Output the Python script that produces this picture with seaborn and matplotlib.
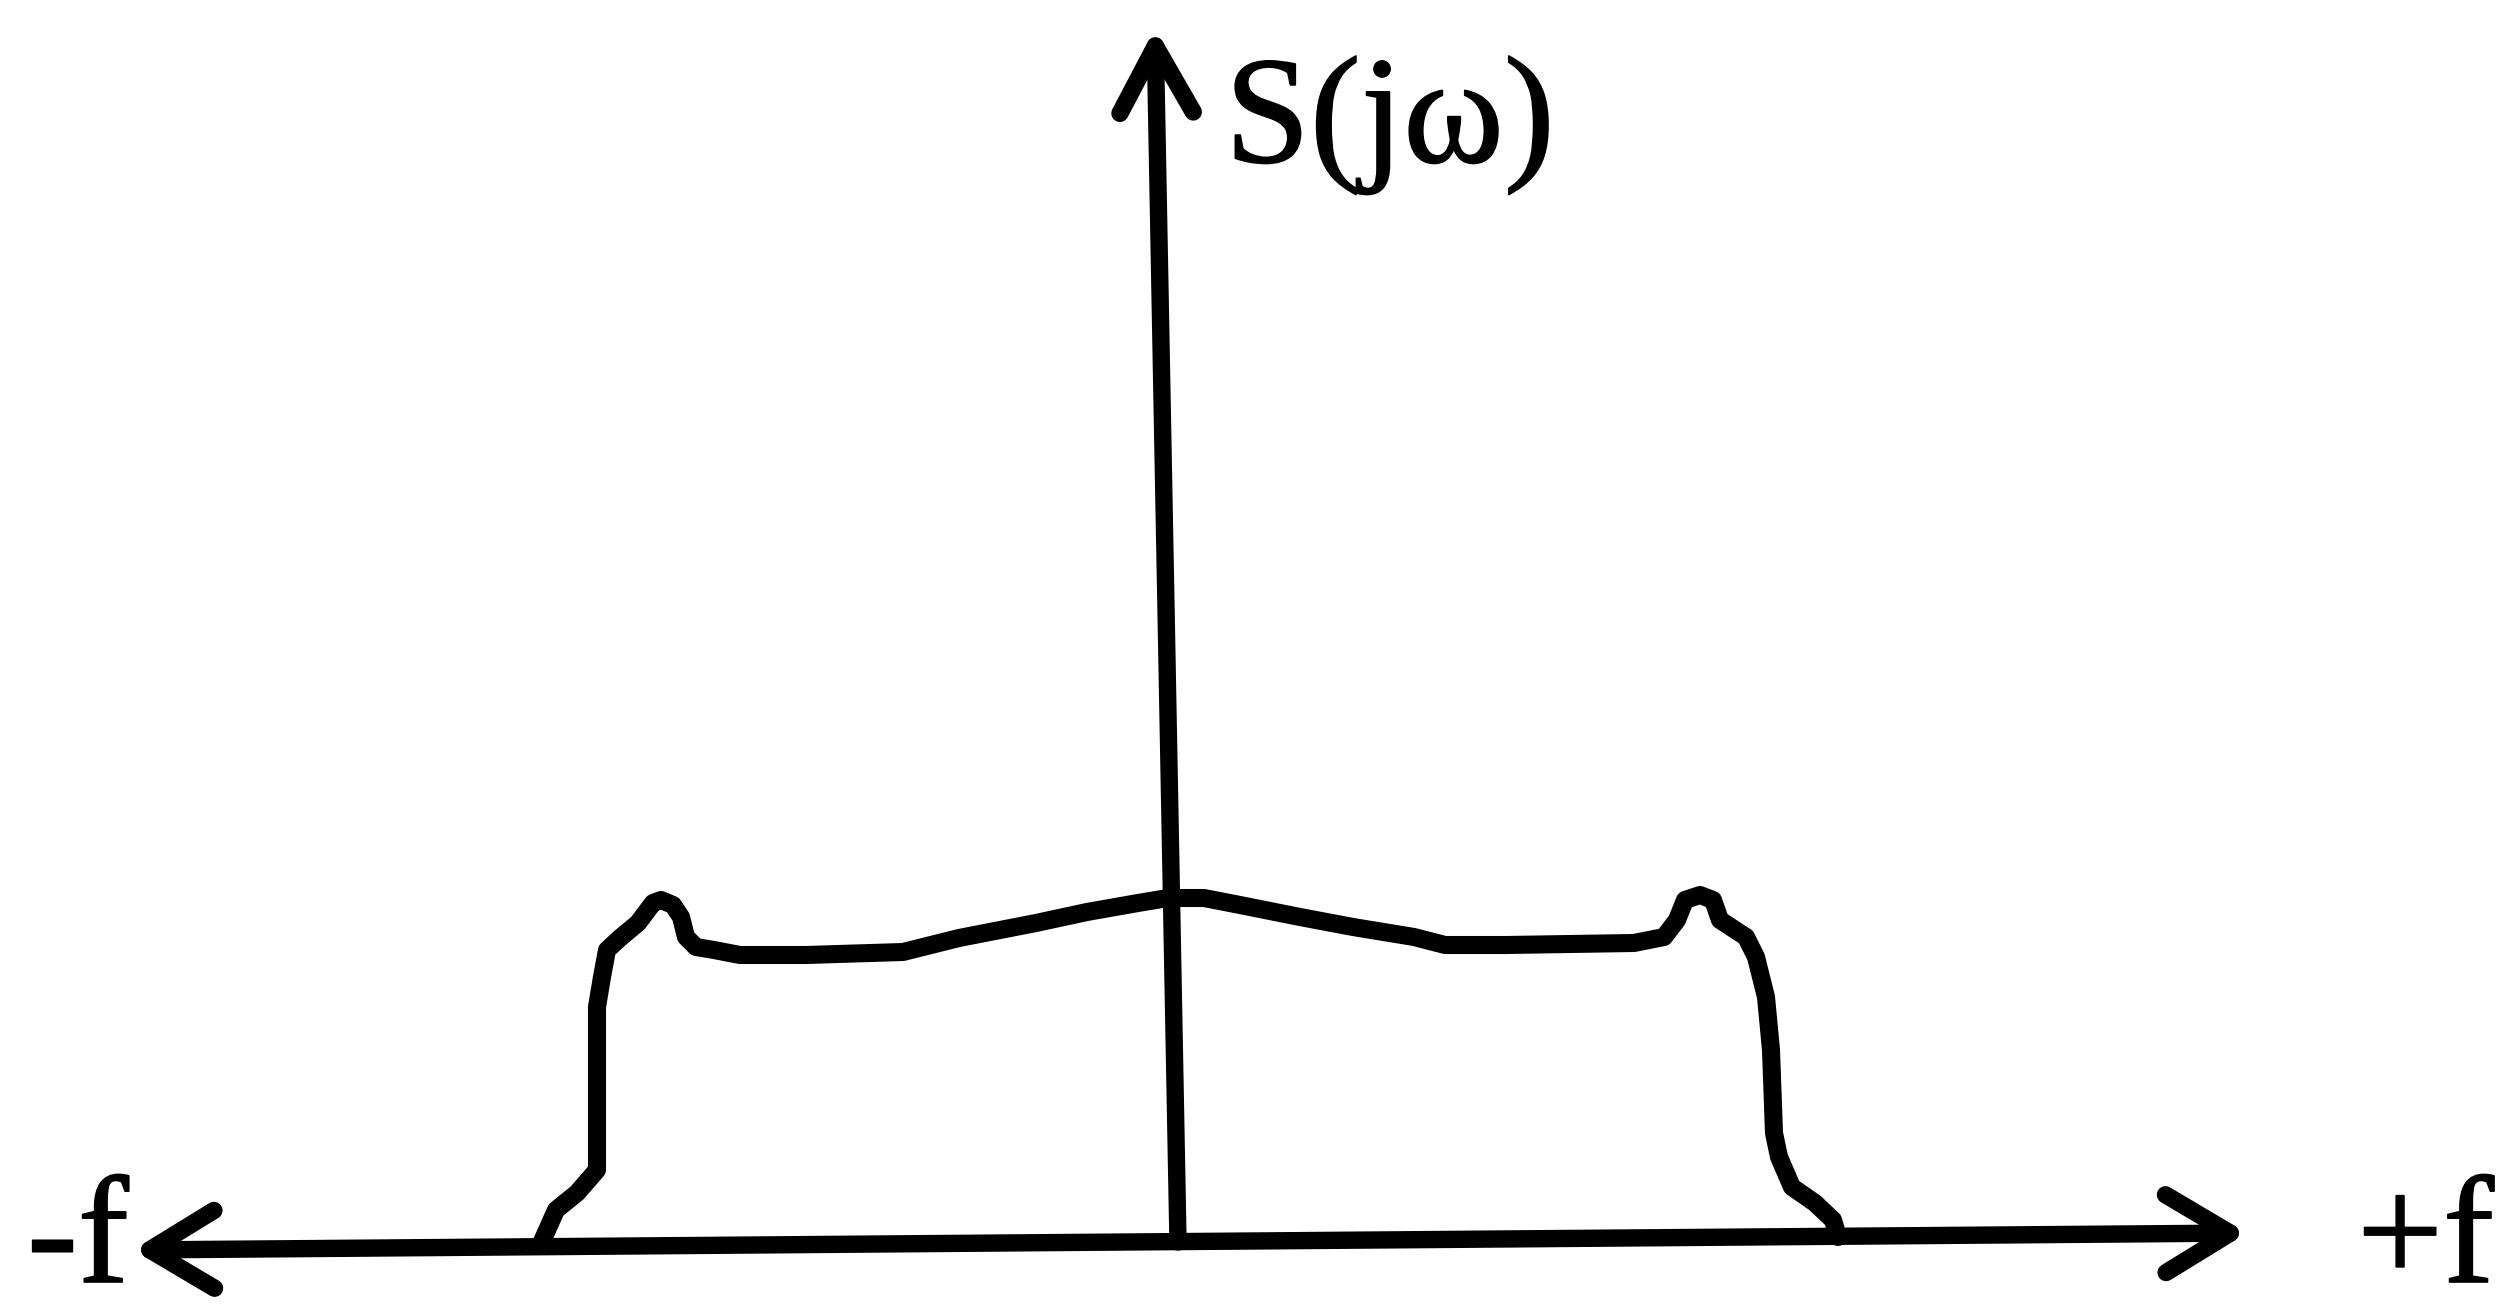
import matplotlib
matplotlib.use("Agg")
import matplotlib.pyplot as plt
import matplotlib.patheffects as pe
import seaborn as sns
import pandas as pd

# Spectrum S(jw) (frequency, magnitude; arbitrary units)
freq = [-6.35, -6.19, -5.98, -5.78, -5.78, -5.78, -5.73, -5.68, -5.55, -5.37,
        -5.22, -5.14, -5.02, -4.94, -4.89, -4.79, -4.61, -4.35, -3.69, -2.72,
        -2.16, -1.39, -0.88, -0.37, -0.07, 0.29, 0.65, 1.25, 1.78, 2.39,
        2.70, 3.31, 4.59, 4.89, 5.02, 5.10, 5.25, 5.38, 5.45, 5.71,
        5.81, 5.91, 5.96, 5.99, 6.04, 6.17, 6.40, 6.58, 6.63]
mag = [-0.04, 0.32, 0.49, 0.72, 1.59, 2.35, 2.65, 2.92, 3.04, 3.19,
       3.39, 3.42, 3.37, 3.25, 3.05, 2.95, 2.92, 2.87, 2.87, 2.90,
       3.04, 3.19, 3.30, 3.39, 3.44, 3.44, 3.37, 3.25, 3.15, 3.05,
       2.97, 2.97, 2.99, 3.05, 3.22, 3.42, 3.47, 3.42, 3.22, 3.05,
       2.85, 2.45, 1.92, 1.09, 0.85, 0.55, 0.39, 0.22, 0.05]

# axis extents (data units)
f_axis_left = (-10.42, -0.08)
f_axis_right = (10.72, 0.09)
s_axis_bottom = (0.03, 0.0)
s_axis_top = (-0.20, 12.14)

label_neg = "-f"
label_pos = "+f"
label_y = "S(jω)"

df = pd.DataFrame({"f": freq, "S": mag})

sns.set_theme(style="white")
serif = ["Liberation Serif", "DejaVu Serif"]
plt.rcParams["font.family"] = serif

fig = plt.figure(figsize=(24.99, 13.14), dpi=100)
ax = fig.add_axes([0, 0, 1, 1])
ax.set_xlim(-11.75, 13.24)
ax.set_ylim(-0.72, 12.42)
ax.axis("off")

lw = 12.5
arrow_h = dict(arrowstyle="<->,head_length=0.58,head_width=0.35", lw=lw,
               color="black", shrinkA=0, shrinkB=0, mutation_scale=80,
               capstyle="round", joinstyle="round")
arrow_v = dict(arrowstyle="->,head_length=0.6,head_width=0.33", lw=lw,
               color="black", shrinkA=0, shrinkB=0, mutation_scale=80,
               capstyle="round", joinstyle="round")

ax.annotate("", xy=f_axis_right, xytext=f_axis_left, arrowprops=arrow_h)
ax.annotate("", xy=s_axis_top, xytext=s_axis_bottom, arrowprops=arrow_v)

sns.lineplot(data=df, x="f", y="S", sort=False, ax=ax, color="black",
             lw=13, solid_joinstyle="round", solid_capstyle="round",
             estimator=None)

fx = [pe.withStroke(linewidth=1.2, foreground="black")]
fs = 110
ax.text(-11.48, -0.40, label_neg, fontsize=fs, ha="left", va="baseline",
        color="black", family=serif, path_effects=fx)
ax.text(11.82, -0.40, label_pos, fontsize=fs, ha="left", va="baseline",
        color="black", family=serif, path_effects=fx)
ax.text(0.50, 10.80, label_y, fontsize=110, ha="left", va="baseline",
        color="black", family=serif, path_effects=fx)

fig.savefig("out.png", dpi=100, facecolor="white")
